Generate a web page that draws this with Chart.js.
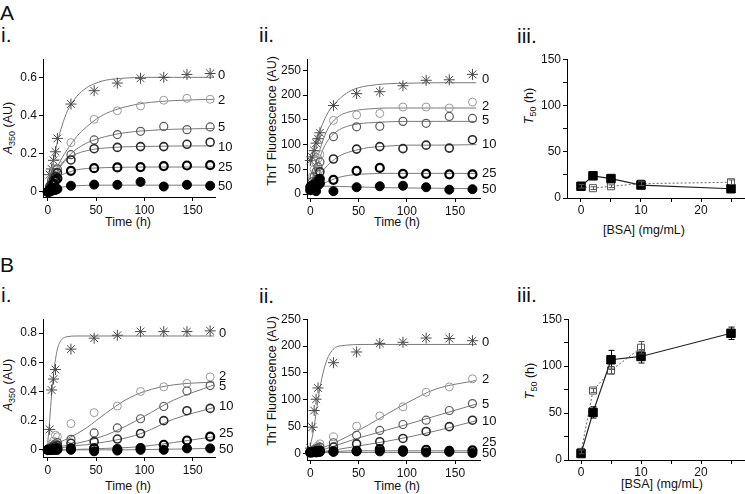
<!DOCTYPE html>
<html><head><meta charset="utf-8">
<script src="https://cdn.jsdelivr.net/npm/chart.js@4"></script>
<style>
html,body{margin:0;padding:0;background:#fff}
#fig{position:relative;width:745px;height:494px;overflow:hidden;font-family:"Liberation Sans",Arial,sans-serif;color:#111}
.pl{position:absolute;font-size:21px;line-height:21px}
.yt{position:absolute;font-size:12.5px;line-height:14px;white-space:nowrap;transform:translate(-50%,-50%) rotate(-90deg)}
.xt{position:absolute;font-size:12.5px;line-height:14px;white-space:nowrap;transform:translate(-50%,-50%)}
.yt sub{font-size:9px}
canvas{position:absolute}
</style>
</head><body>
<div id="fig">
  <div class="pl" style="left:0;top:2px">A</div>
  <div class="pl" style="left:1px;top:24px">i.</div>
  <div class="pl" style="left:259px;top:24px">ii.</div>
  <div class="pl" style="left:517px;top:25px">iii.</div>
  <div class="pl" style="left:0;top:254px">B</div>
  <div class="pl" style="left:1px;top:284px">i.</div>
  <div class="pl" style="left:259px;top:285px">ii.</div>
  <div class="pl" style="left:517px;top:284px">iii.</div>

  <div class="yt" style="left:10px;top:128px"><i>A</i><sub>350</sub> (AU)</div>
  <div class="yt" style="left:272px;top:121px">ThT Fluorescence (AU)</div>
  <div class="yt" style="left:531px;top:106px"><i>T</i><sub>50</sub> (h)</div>
  <div class="yt" style="left:10px;top:385px"><i>A</i><sub>350</sub> (AU)</div>
  <div class="yt" style="left:272px;top:381px">ThT Fluorescence (AU)</div>
  <div class="yt" style="left:532px;top:381px"><i>T</i><sub>50</sub> (h)</div>

  <div class="xt" style="left:128px;top:222px">Time (h)</div>
  <div class="xt" style="left:397px;top:222px">Time (h)</div>
  <div class="xt" style="left:644px;top:230px">[BSA] (mg/mL)</div>
  <div class="xt" style="left:128px;top:486px">Time (h)</div>
  <div class="xt" style="left:397px;top:486px">Time (h)</div>
  <div class="xt" style="left:662px;top:484px">[BSA] (mg/mL)</div>
</div>
<script>
// ---------- data ----------
const times = [0, 2, 4, 6, 8, 10, 24, 48, 72, 96, 120, 144, 168];
const fitT = [0, 5, 10, 15, 20, 30, 40, 50, 60, 80, 100, 130, 172];
const fitTFast = [0, 2, 4, 6, 8, 10, 12, 15, 20, 30, 60, 100, 172];
const seriesNames = ['0', '2', '5', '10', '25', '50'];
const bsaConc = [0, 2, 5, 10, 25];

const timeTicks = [0, 50, 100, 150];
const a350TicksA = [0, 0.2, 0.4, 0.6];
const a350TicksB = [0, 0.2, 0.4, 0.6, 0.8];
const thtTicks = [0, 50, 100, 150, 200, 250];
const t50Ticks = [0, 50, 100, 150];
const t50Minor = [25, 75, 125];
const bsaTicks = [0, 10, 20];
const bsaMinor = [5, 15, 25];

// Panel A-i : A350
const aA350_0  = [0.0, 0.09, 0.12, 0.165, 0.21, 0.28, 0.46, 0.53, 0.57, 0.595, 0.60, 0.615, 0.62];
const aA350_2  = [0.0, 0.03, 0.06, 0.09, 0.12, 0.15, 0.258, 0.38, 0.425, 0.45, 0.48, 0.49, 0.485];
const aA350_5  = [0.0, 0.03, 0.06, 0.08, 0.10, 0.12, 0.195, 0.272, 0.30, 0.317, 0.343, 0.326, 0.34];
const aA350_10 = [0.0, 0.02, 0.04, 0.06, 0.08, 0.10, 0.167, 0.226, 0.233, 0.237, 0.237, 0.249, 0.26];
const aA350_25 = [0.0, 0.01, 0.02, 0.04, 0.06, 0.07, 0.11, 0.124, 0.128, 0.13, 0.135, 0.138, 0.14];
const aA350_50 = [0.0, 0.0, 0.005, 0.01, 0.01, 0.015, 0.032, 0.038, 0.037, 0.052, 0.028, 0.037, 0.032];
const aA350Fit_0  = [0.0, 0.14, 0.26, 0.35, 0.42, 0.50, 0.545, 0.57, 0.585, 0.596, 0.60, 0.60, 0.60];
const aA350Fit_2  = [0.0, 0.07, 0.13, 0.18, 0.22, 0.29, 0.34, 0.38, 0.41, 0.445, 0.465, 0.478, 0.485];
const aA350Fit_5  = [0.0, 0.06, 0.11, 0.15, 0.18, 0.225, 0.255, 0.275, 0.29, 0.31, 0.32, 0.328, 0.332];
const aA350Fit_10 = [0.0, 0.06, 0.11, 0.145, 0.17, 0.2, 0.215, 0.225, 0.23, 0.236, 0.238, 0.24, 0.241];
const aA350Fit_25 = [0.0, 0.04, 0.07, 0.09, 0.10, 0.115, 0.122, 0.125, 0.127, 0.129, 0.13, 0.13, 0.13];
const aA350Fit_50 = [0.0, 0.012, 0.02, 0.025, 0.028, 0.032, 0.034, 0.035, 0.035, 0.035, 0.035, 0.035, 0.035];
const aA350LabelY = [0.61, 0.478, 0.336, 0.234, 0.13, 0.03];

// Panel A-ii : ThT
const aTht_0  = [68, 75, 88, 103, 112, 124, 179, 203, 207, 219, 230, 231, 242];
const aTht_2  = [15, 35, 50, 62, 72, 80, 149, 160, 163, 176, 176, 174, 186];
const aTht_5  = [12, 25, 35, 45, 55, 65, 116, 136, 137, 147, 143, 157, 153];
const aTht_10 = [10, 15, 20, 25, 30, 45, 71, 91, 96, 92, 99, 93, 110];
const aTht_25 = [8, 10, 12, 15, 18, 22, 29, 47, 53, 41, 41, 40, 40];
const aTht_50 = [15, 18, 12, 6, 24, 31, 6, 14, 16, 17, 14, 9, 10];
const aThtFit_0  = [58, 100, 128, 152, 170, 192, 207, 215, 219, 223, 224, 225, 225];
const aThtFit_2  = [12, 55, 90, 118, 138, 158, 166, 170, 172, 174, 174, 174, 174];
const aThtFit_5  = [10, 45, 75, 98, 113, 130, 138, 142, 144, 146, 147, 147, 147];
const aThtFit_10 = [8, 22, 38, 52, 62, 77, 85, 90, 94, 97, 99, 99, 100];
const aThtFit_25 = [6, 12, 18, 23, 27, 34, 38, 40, 41, 42, 42, 42, 42];
const aThtFit_50 = [16, 16, 16, 16, 16, 15.5, 15, 14.5, 14, 13, 12.5, 12, 11];
const aThtLabelY = [231, 178, 149, 100, 42, 10];

// Panel A-iii : T50
const aT50_abs = [12.7, 24, 21, 14, 10];
const aT50_absErr = [2, 3, 2, 1.5, 2];
const aT50_tht = [12.7, 10.6, 12.7, 15.5, 17];
const aT50_thtErr = [2, 1.5, 1.5, 2, 2.5];

// Panel B-i : A350
const bA350_0  = [0.0, 0.14, 0.41, 0.485, 0.55, null, 0.69, 0.765, 0.785, 0.81, 0.81, 0.81, 0.815];
const bA350_2  = [0.0, 0.02, 0.04, 0.06, 0.10, 0.09, 0.18, 0.255, 0.30, 0.40, 0.432, 0.455, 0.50];
const bA350_5  = [0.0, 0.01, 0.02, 0.03, 0.04, 0.05, 0.072, 0.116, 0.15, 0.213, 0.297, 0.403, 0.44];
const bA350_10 = [0.0, 0.005, 0.01, 0.02, 0.02, 0.03, 0.045, 0.056, 0.074, 0.112, 0.2, 0.268, 0.284];
const bA350_25 = [0.0, 0.0, 0.0, 0.005, 0.005, 0.01, 0.01, 0.01, 0.005, 0.012, 0.035, 0.064, 0.09];
const bA350_50 = [0.0, 0.0, 0.0, 0.0, 0.0, 0.0, 0.0, -0.01, -0.005, 0.0, 0.0, 0.01, 0.01];
const bA350Fit_0  = [0.05, 0.2, 0.38, 0.52, 0.62, 0.69, 0.73, 0.76, 0.775, 0.78, 0.78, 0.78, 0.78];
const bA350Fit_2  = [0.02, 0.03, 0.045, 0.06, 0.075, 0.11, 0.15, 0.2, 0.25, 0.34, 0.40, 0.445, 0.465];
const bA350Fit_5  = [0.01, 0.015, 0.02, 0.025, 0.03, 0.045, 0.06, 0.08, 0.1, 0.16, 0.23, 0.34, 0.445];
const bA350Fit_10 = [0.0, 0.005, 0.01, 0.015, 0.02, 0.03, 0.035, 0.045, 0.055, 0.08, 0.12, 0.21, 0.29];
const bA350Fit_25 = [0.0, 0.0, 0.0, 0.0, 0.0, 0.003, 0.005, 0.007, 0.01, 0.015, 0.025, 0.05, 0.09];
const bA350Fit_50 = [0.0, 0.0, 0.0, 0.0, 0.0, 0.0, 0.0, 0.0, 0.0, 0.0, 0.002, 0.005, 0.01];
const bA350LabelY = [0.8, 0.5, 0.436, 0.297, 0.11, 0.005];

// Panel B-ii : ThT
const bTht_0  = [10, 49, 80, 101, 122, null, 169, 189, 205, 207, 215, 214, 210];
const bTht_2  = [2, 5, 8, 10, 14, 18, 31, 51, 70, 87, 114, 124, 139];
const bTht_5  = [2, 4, 6, 8, 10, 12, 20, 34, 43, 54, 62, 80, 93];
const bTht_10 = [1, 2, 3, 4, 5, 6, 12, 18, 22, 28, 41, 50, 62];
const bTht_25 = [2, 3, 3, 4, 4, 5, 4, 5, 8, 6, 7, 5, 6];
const bTht_50 = [3, 2, 3, 2, 3, 3, 3, 4, 4, 3, 2, 3, 1];
const bThtFit_0  = [15, 30, 50, 75, 100, 122, 140, 162, 185, 200, 203, 203, 203];
const bThtFit_2  = [2, 5, 8, 12, 16, 24, 33, 43, 53, 74, 94, 120, 136];
const bThtFit_5  = [1, 3, 5, 8, 11, 17, 23, 29, 34, 44, 54, 70, 92];
const bThtFit_10 = [1, 2, 3, 4, 5, 8, 11, 14, 17, 23, 30, 42, 61];
const bThtFit_25 = [3, 3, 4, 4, 4, 4, 5, 5, 5, 5, 5, 5, 5];
const bThtFit_50 = [2, 2, 2, 2, 2, 2, 2, 2, 2, 2, 2, 2, 2];
const bThtLabelY = [206, 138, 92, 60, 21, 0];

// Panel B-iii : T50
const bT50_abs = [6.9, 50.7, 106.8, 110.3, 135];
const bT50_absErr = [2, 6, 10, 7, 6.6];
const bT50_tht = [8.6, 74, 95.5, 119.6, null];
const bT50_thtErr = [2, 2, 4, 6.6, 0];

// ---------- drawing ----------
Chart.defaults.font.family = '"Liberation Sans", Arial, sans-serif';
Chart.defaults.font.size = 12;
Chart.defaults.color = '#111';

const fig = document.getElementById('fig');
const MARK = [
  {ps: 'star',   r: 5.5, bc: '#4a4a4a', bw: 1,   bg: '#4a4a4a'},
  {ps: 'circle', r: 4,   bc: '#9a9a9a', bw: 1,   bg: 'rgba(0,0,0,0)'},
  {ps: 'circle', r: 4,   bc: '#5a5a5a', bw: 1.2, bg: 'rgba(0,0,0,0)'},
  {ps: 'circle', r: 4,   bc: '#2a2a2a', bw: 1.6, bg: 'rgba(0,0,0,0)'},
  {ps: 'circle', r: 4,   bc: '#000',    bw: 2.2, bg: 'rgba(0,0,0,0)'},
  {ps: 'circle', r: 4.5, bc: '#000',    bw: 1,   bg: '#000'}
];

function pts(xs, ys) {
  const out = [];
  xs.forEach((x, i) => { if (ys[i] !== null && ys[i] !== undefined) out.push({x: x, y: ys[i]}); });
  return out;
}

function axis(min, max, major, minor, size, isY, pad) {
  const all = major.concat(minor || []);
  const o = {
    type: 'linear', min: min, max: max,
    afterBuildTicks: s => { s.ticks = all.filter(v => v >= min && v <= max).sort((a, b) => a - b).map(v => ({value: v})); },
    ticks: {autoSkip: false, maxRotation: 0, padding: pad === undefined ? 2 : pad, color: '#111', font: {size: 12},
      callback: v => (major.indexOf(v) >= 0 ? String(v) : '')},
    grid: {drawOnChartArea: false, drawTicks: true, tickLength: 4, color: '#000', lineWidth: 1},
    border: {display: true, color: '#000', width: 1}
  };
  if (isY) o.afterFit = s => { s.width = size; }; else o.afterFit = s => { s.height = size; };
  return o;
}

function makeCanvas(box) {
  const c = document.createElement('canvas');
  c.width = box.w; c.height = box.h;
  c.style.left = box.left + 'px'; c.style.top = box.top + 'px';
  c.style.width = box.w + 'px'; c.style.height = box.h + 'px';
  fig.appendChild(c);
  return c;
}

const curveLabelPlugin = {
  id: 'curveLabels',
  afterDraw(chart) {
    const o = chart.options.plugins.curveLabels;
    if (!o || !o.labels) return;
    const ctx = chart.ctx, ys = chart.scales.y;
    ctx.save();
    ctx.font = '13px "Liberation Sans", Arial, sans-serif';
    ctx.fillStyle = '#111';
    ctx.textBaseline = 'middle';
    ctx.textAlign = 'left';
    o.labels.forEach((t, i) => ctx.fillText(t, chart.chartArea.right + o.dx, ys.getPixelForValue(o.ys[i])));
    ctx.restore();
  }
};

const errorBarPlugin = {
  id: 'errBars',
  afterDatasetsDraw(chart) {
    const ctx = chart.ctx, xs = chart.scales.x, ys = chart.scales.y;
    chart.data.datasets.forEach(ds => {
      if (!ds.errors) return;
      ctx.save();
      ctx.strokeStyle = ds.errColor || '#000';
      ctx.lineWidth = 1;
      ds.data.forEach((p, i) => {
        const e = ds.errors[i];
        if (!e) return;
        const px = Math.round(xs.getPixelForValue(p.x)) + 0.5;
        const y1 = ys.getPixelForValue(p.y + e), y2 = ys.getPixelForValue(p.y - e);
        ctx.beginPath();
        ctx.moveTo(px, y1); ctx.lineTo(px, y2);
        ctx.moveTo(px - 3, y1); ctx.lineTo(px + 3, y1);
        ctx.moveTo(px - 3, y2); ctx.lineTo(px + 3, y2);
        ctx.stroke();
      });
      ctx.restore();
    });
  }
};

function kinetic(box, xr, yr, yTicks, obs, fits, fitTimes, labelYs, dx) {
  const ds = [];
  fits.forEach((f, i) => ds.push({
    data: pts(fitTimes[i], f), showLine: true, borderColor: '#7a7a7a', borderWidth: 1,
    pointRadius: 0, cubicInterpolationMode: 'monotone', order: 20, clip: false
  }));
  obs.forEach((v, i) => {
    const m = MARK[i];
    ds.push({data: pts(times, v), showLine: false, pointStyle: m.ps, pointRadius: m.r,
      borderColor: m.bc, backgroundColor: m.bg, pointBorderWidth: m.bw, borderWidth: m.bw,
      order: 10 - i, clip: false});
  });
  new Chart(makeCanvas(box), {
    type: 'scatter',
    data: {datasets: ds},
    options: {
      responsive: false, animation: false, devicePixelRatio: 1,
      layout: {autoPadding: false, padding: {left: 0, top: box.pt, right: box.pr, bottom: 0}},
      plugins: {legend: {display: false}, tooltip: {enabled: false},
        curveLabels: {labels: seriesNames, ys: labelYs, dx: dx}},
      scales: {
        x: axis(xr[0], xr[1], timeTicks, [], 20, false),
        y: axis(yr[0], yr[1], yTicks, [], box.yw, true)
      }
    },
    plugins: [curveLabelPlugin]
  });
}

function t50(box, xr, abs, absErr, tht, thtErr) {
  const ds = [
    {data: pts(bsaConc, abs), showLine: true, borderColor: '#222', borderWidth: 1.2,
     pointStyle: 'rect', pointRadius: 6, backgroundColor: '#000', pointBorderColor: '#000',
     pointBorderWidth: 1, errors: absErr, errColor: '#000', order: 1, clip: false},
    {data: pts(bsaConc, tht), showLine: true, borderColor: '#666', borderWidth: 1, borderDash: [2, 2],
     pointStyle: 'rect', pointRadius: 5, backgroundColor: '#fff', pointBorderColor: '#555',
     pointBorderWidth: 1, errors: thtErr, errColor: '#555', order: 2, clip: false}
  ];
  new Chart(makeCanvas(box), {
    type: 'scatter',
    data: {datasets: ds},
    options: {
      responsive: false, animation: false, devicePixelRatio: 1,
      layout: {autoPadding: false, padding: {left: 0, top: box.pt, right: box.pr, bottom: 0}},
      plugins: {legend: {display: false}, tooltip: {enabled: false}},
      scales: {
        x: axis(xr[0], xr[1], bsaTicks, bsaMinor, 20, false, 1),
        y: axis(0, 150, t50Ticks, t50Minor, box.yw, true)
      }
    },
    plugins: [errorBarPlugin]
  });
}

kinetic({left: 0, top: 50, w: 242, h: 167, yw: 43, pt: 5, pr: 27}, [-4.9, 173], [-0.027, 0.695], a350TicksA,
  [aA350_0, aA350_2, aA350_5, aA350_10, aA350_25, aA350_50],
  [aA350Fit_0, aA350Fit_2, aA350Fit_5, aA350Fit_10, aA350Fit_25, aA350Fit_50],
  [fitT, fitT, fitT, fitT, fitT, fitT], aA350LabelY, 3);

kinetic({left: 250, top: 50, w: 258, h: 168, yw: 57, pt: 5, pr: 28}, [-3.4, 175.8], [-7.8, 272.6], thtTicks,
  [aTht_0, aTht_2, aTht_5, aTht_10, aTht_25, aTht_50],
  [aThtFit_0, aThtFit_2, aThtFit_5, aThtFit_10, aThtFit_25, aThtFit_50],
  [fitT, fitT, fitT, fitT, fitT, fitT], aThtLabelY, 2);

t50({left: 520, top: 50, w: 225, h: 168, yw: 47, pt: 6, pr: 0}, [-2.33, 27.33],
  aT50_abs, aT50_absErr, aT50_tht, aT50_thtErr);

kinetic({left: 0, top: 310, w: 242, h: 167, yw: 43, pt: 7, pr: 27}, [-4.9, 173], [-0.049, 0.895], a350TicksB,
  [bA350_0, bA350_2, bA350_5, bA350_10, bA350_25, bA350_50],
  [bA350Fit_0, bA350Fit_2, bA350Fit_5, bA350Fit_10, bA350Fit_25, bA350Fit_50],
  [fitTFast, fitT, fitT, fitT, fitT, fitT], bA350LabelY, 4);

kinetic({left: 250, top: 310, w: 258, h: 170, yw: 57, pt: 5, pr: 28}, [-3.4, 175.8], [-12.1, 250], thtTicks,
  [bTht_0, bTht_2, bTht_5, bTht_10, bTht_25, bTht_50],
  [bThtFit_0, bThtFit_2, bThtFit_5, bThtFit_10, bThtFit_25, bThtFit_50],
  [fitTFast, fitT, fitT, fitT, fitT, fitT], bThtLabelY, 2);

t50({left: 520, top: 310, w: 225, h: 170, yw: 48, pt: 5, pr: 0}, [-2.17, 27.33],
  bT50_abs, bT50_absErr, bT50_tht, bT50_thtErr);
</script>
</body></html>
